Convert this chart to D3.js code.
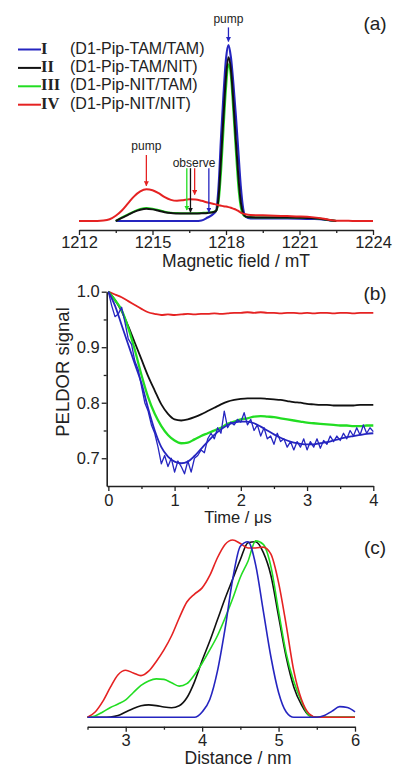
<!DOCTYPE html>
<html><head><meta charset="utf-8">
<script src="https://cdn.jsdelivr.net/npm/d3@7"></script>
<style>body{margin:0;background:#fff}svg{display:block}text{font-family:"Liberation Sans",Arial,sans-serif;fill:#222}</style>
</head><body>
<script>
// ---------- Panel (a): EPR spectra ----------
const fieldA = [1212,1212.5,1213,1213.25,1213.5,1213.75,1214,1214.25,1214.5,1214.75,1215,1215.25,1215.5,1215.75,1216,1216.25,1216.5,1216.75,1217,1217.25,1217.5,1217.6,1217.7,1217.8,1217.9,1218,1218.1,1218.2,1218.3,1218.4,1218.5,1218.6,1218.7,1218.8,1219,1219.5,1220,1220.5,1221,1221.5,1222,1222.25,1222.5,1223,1223.5,1224];
const specI   = [null,null,null,null,0,0,0,0,0,0,0,0,0,0,0,0,0,0,0.003,0.02,0.042,0.06,0.2,0.48,0.72,0.92,1.0,0.93,0.78,0.6,0.4,0.2,0.07,0.025,0.015,0.015,0.015,0.015,0.014,0.012,0.008,0.003,0,null,null,null];
const specII  = [null,null,null,null,0,0.018,0.035,0.052,0.064,0.07,0.066,0.058,0.05,0.045,0.043,0.042,0.042,0.042,0.044,0.046,0.051,0.058,0.14,0.36,0.6,0.82,0.93,0.86,0.68,0.46,0.26,0.11,0.045,0.025,0.021,0.02,0.02,0.02,0.019,0.017,0.01,0.004,0,null,null,null];
const specIII = [null,null,null,null,0,0.02,0.038,0.055,0.068,0.074,0.07,0.062,0.053,0.047,0.045,0.044,0.044,0.044,0.046,0.048,0.053,0.06,0.11,0.28,0.52,0.75,0.89,0.82,0.62,0.4,0.2,0.08,0.035,0.025,0.021,0.02,0.02,0.02,0.019,0.017,0.01,0.004,0,null,null,null];
const specIV  = [0,0,0.003,0.01,0.03,0.06,0.1,0.14,0.168,0.18,0.175,0.158,0.135,0.12,0.115,0.118,0.123,0.122,0.115,0.105,0.097,0.094,0.09,0.087,0.084,0.082,0.079,0.075,0.07,0.065,0.057,0.048,0.042,0.038,0.034,0.032,0.03,0.028,0.026,0.022,0.013,0.006,0.002,0.001,0,0];
const fieldTicksMajor = [1212,1215,1218,1221,1224];
const fieldTicksMinor = [1213.5,1216.5,1219.5,1222.5];

// ---------- Panel (b): PELDOR time traces ----------
const timeB = [0,0.1,0.2,0.3,0.4,0.5,0.6,0.7,0.8,0.9,1.0,1.1,1.2,1.3,1.4,1.5,1.6,1.7,1.8,1.9,2.0,2.1,2.2,2.3,2.4,2.5,2.6,2.7,2.8,2.9,3.0,3.1,3.2,3.3,3.4,3.5,3.6,3.7,3.8,3.9,4.0];
const traceIV  = [1.0,0.995,0.99,0.983,0.976,0.969,0.963,0.96,0.958,0.959,0.958,0.959,0.96,0.959,0.96,0.96,0.961,0.96,0.961,0.962,0.962,0.963,0.962,0.963,0.962,0.962,0.961,0.962,0.962,0.961,0.962,0.961,0.962,0.962,0.961,0.962,0.962,0.961,0.962,0.962,0.962];
const traceII  = [1.0,0.985,0.965,0.938,0.908,0.878,0.848,0.822,0.797,0.78,0.77,0.768,0.77,0.774,0.779,0.785,0.791,0.797,0.802,0.805,0.807,0.808,0.808,0.808,0.807,0.806,0.805,0.803,0.801,0.8,0.798,0.797,0.796,0.796,0.795,0.795,0.795,0.795,0.796,0.796,0.796];
const traceIII = [1.0,0.985,0.967,0.935,0.895,0.85,0.81,0.78,0.758,0.742,0.732,0.727,0.728,0.734,0.74,0.745,0.75,0.755,0.762,0.766,0.77,0.772,0.775,0.776,0.775,0.774,0.772,0.77,0.768,0.766,0.764,0.763,0.762,0.761,0.76,0.759,0.759,0.758,0.758,0.759,0.759];
const fitI     = [1.0,0.975,0.94,0.905,0.87,0.835,0.79,0.75,0.72,0.703,0.694,0.691,0.694,0.704,0.717,0.73,0.742,0.752,0.76,0.764,0.766,0.766,0.763,0.757,0.75,0.743,0.737,0.732,0.728,0.726,0.725,0.725,0.727,0.729,0.732,0.735,0.738,0.74,0.742,0.744,0.745];
const timeNoisy = [0,0.05,0.1,0.15,0.2,0.25,0.3,0.35,0.4,0.45,0.5,0.55,0.6,0.65,0.7,0.75,0.8,0.85,0.9,0.95,1.0,1.05,1.1,1.15,1.2,1.25,1.3,1.35,1.4,1.45,1.5,1.55,1.6,1.65,1.7,1.75,1.8,1.85,1.9,1.95,2.0,2.05,2.1,2.15,2.2,2.25,2.3,2.35,2.4,2.45,2.5,2.55,2.6,2.65,2.7,2.75,2.8,2.85,2.9,2.95,3.0,3.05,3.1,3.15,3.2,3.25,3.3,3.35,3.4,3.45,3.5,3.55,3.6,3.65,3.7,3.75,3.8,3.85,3.9,3.95,4.0];
const traceI = [1.0,0.975,0.955,0.96,0.972,0.945,0.915,0.905,0.875,0.86,0.83,0.8,0.785,0.76,0.745,0.72,0.69,0.705,0.685,0.7,0.675,0.695,0.685,0.672,0.695,0.675,0.7,0.705,0.715,0.71,0.735,0.745,0.735,0.755,0.745,0.785,0.755,0.765,0.76,0.77,0.765,0.782,0.76,0.77,0.75,0.76,0.74,0.755,0.735,0.74,0.725,0.745,0.73,0.735,0.72,0.73,0.715,0.73,0.72,0.735,0.715,0.73,0.72,0.735,0.718,0.732,0.725,0.74,0.73,0.74,0.732,0.745,0.735,0.75,0.74,0.755,0.742,0.76,0.745,0.755,0.748];
const timeTicksMajor = [0,1,2,3,4];
const timeTicksMinor = [0.5,1.5,2.5,3.5];
const signalTicksMajor = [0.7,0.8,0.9,1.0];
const signalTicksMinor = [0.75,0.85,0.95];

// ---------- Panel (c): distance distributions ----------
const distC = [2.5,2.6,2.7,2.8,2.9,3.0,3.1,3.2,3.3,3.4,3.5,3.6,3.7,3.8,3.9,4.0,4.1,4.2,4.3,4.4,4.5,4.6,4.7,4.8,4.9,5.0,5.1,5.2,5.3,5.4,5.5,5.6,5.7,5.8,5.9,6.0];
const distI   = [0,0,0,0,0,0,0,0,0,0,0,0,0,0,0,0.03,0.1,0.26,0.5,0.78,0.965,0.99,0.86,0.6,0.34,0.14,0.03,0,0,0,0,0.01,0.035,0.06,0.055,0.03];
const distII  = [0,0,0,0.002,0.01,0.03,0.05,0.065,0.07,0.066,0.058,0.054,0.065,0.11,0.2,0.32,0.43,0.55,0.67,0.78,0.89,0.985,0.99,0.93,0.8,0.57,0.34,0.17,0.07,0.01,0,0,0,0,0,0];
const distIII = [0,0.008,0.03,0.055,0.075,0.098,0.14,0.18,0.205,0.217,0.214,0.195,0.176,0.19,0.24,0.305,0.38,0.46,0.56,0.67,0.79,0.88,0.995,0.975,0.85,0.6,0.36,0.2,0.09,0.01,0,0,0,0,0,0];
const distIV  = [0,0.03,0.09,0.17,0.24,0.265,0.25,0.235,0.26,0.315,0.38,0.46,0.56,0.65,0.695,0.73,0.8,0.9,0.975,1.0,0.98,0.955,0.955,0.96,0.92,0.76,0.52,0.26,0.1,0.02,0,0,0,0,0,0];
const distTicksMajor = [3,4,5,6];
const distTicksMinor = [2.5,3.5,4.5,5.5];

const seriesNames = ["I","II","III","IV"];
const seriesLabels = ["(D1-Pip-TAM/TAM)","(D1-Pip-TAM/NIT)","(D1-Pip-NIT/TAM)","(D1-Pip-NIT/NIT)"];
const colors = {I:"#2525c0", II:"#111111", III:"#22dd22", IV:"#e52222"};

// ---------- drawing ----------
const svg = d3.select("body").append("svg").attr("width",400).attr("height",778);

function bottomAxis(scale, y, major, minor, pad, fmt){
  const gMin = svg.append("g").attr("transform",`translate(0,${y})`)
    .call(d3.axisBottom(scale).tickValues(minor).tickSize(3).tickFormat(""));
  gMin.select(".domain").remove();
  const g = svg.append("g").attr("transform",`translate(0,${y})`)
    .call(d3.axisBottom(scale).tickValues(major).tickSize(5).tickSizeOuter(0).tickPadding(pad).tickFormat(fmt||d3.format("d")));
  [gMin,g].forEach(gg=>{gg.selectAll("line").attr("stroke","#222").attr("stroke-width",1.3);});
  g.select(".domain").attr("stroke","#222").attr("stroke-width",1.6);
  g.selectAll("text").attr("font-size",16.5).attr("fill","#222").style("font-family","Liberation Sans, Arial, sans-serif");
  return g;
}

// Panel (a)
const xA = d3.scaleLinear().domain([1212,1224]).range([79,373]);
const yA = d3.scaleLinear().domain([0,1]).range([221,45]);
const lineA = d3.line().defined(d=>d[1]!=null).x(d=>xA(d[0])).y(d=>yA(d[1])).curve(d3.curveMonotoneX);
[["I",specI],["III",specIII],["II",specII],["IV",specIV]].forEach(([k,v])=>{
  svg.append("path").attr("d",lineA(fieldA.map((f,i)=>[f,v[i]])))
    .attr("fill","none").attr("stroke",colors[k]).attr("stroke-width",k==="I"?2.2:2).attr("stroke-linejoin","round");
});
bottomAxis(xA,230,fieldTicksMajor,fieldTicksMinor,1.5);
svg.append("text").attr("x",236).attr("y",267).attr("text-anchor","middle").attr("font-size",17.5).text("Magnetic field / mT");
svg.append("text").attr("x",375).attr("y",30).attr("text-anchor","middle").attr("font-size",19).text("(a)");

// arrows in (a)
const defs = svg.append("defs");
Object.entries(colors).forEach(([k,c])=>{
  defs.append("marker").attr("id","ah"+k).attr("viewBox","0 0 10 10").attr("refX",9).attr("refY",5)
    .attr("markerWidth",5).attr("markerHeight",5).attr("markerUnits","userSpaceOnUse").attr("orient","auto")
    .append("path").attr("d","M0,0L10,5L0,10Z").attr("fill",c);
});
function arrow(k, field, from, to){
  svg.append("line").attr("x1",xA(field)).attr("x2",xA(field)).attr("y1",yA(from)).attr("y2",yA(to))
    .attr("stroke",colors[k]).attr("stroke-width",1.3).attr("marker-end",`url(#ah${k})`);
}
arrow("I",1218.1,1.1,1.02);
arrow("IV",1214.75,0.375,0.2);
arrow("III",1216.4,0.3,0.062);
arrow("II",1216.55,0.3,0.05);
arrow("IV",1216.72,0.3,0.15);
arrow("I",1217.3,0.3,0.05);
svg.append("text").attr("x",xA(1218.1)).attr("y",23).attr("text-anchor","middle").attr("font-size",12).text("pump");
svg.append("text").attr("x",xA(1214.75)).attr("y",150).attr("text-anchor","middle").attr("font-size",12).text("pump");
svg.append("text").attr("x",194).attr("y",167).attr("text-anchor","middle").attr("font-size",12).text("observe");

// legend
seriesNames.forEach((n,i)=>{
  const cy = 47.5 + i*18.4;
  svg.append("line").attr("x1",18).attr("x2",41).attr("y1",cy+2).attr("y2",cy+2).attr("stroke",colors[n]).attr("stroke-width",2);
  svg.append("text").attr("x",41).attr("y",cy+6).attr("font-size",16.5).attr("font-weight","bold")
    .style("font-family","Liberation Serif, Times New Roman, serif").text(n);
  svg.append("text").attr("x",70).attr("y",cy+6).attr("font-size",16).text(seriesLabels[i]);
});

// Panel (b)
const xB = d3.scaleLinear().domain([-0.025,4]).range([106.7,373.3]);
const yB = d3.scaleLinear().domain([0.65,1.0]).range([486,291.7]);
const lineB = d3.line().x(d=>xB(d[0])).y(d=>yB(d[1])).curve(d3.curveMonotoneX);
const lineBlin = d3.line().x(d=>xB(d[0])).y(d=>yB(d[1]));
[["IV",traceIV,1.8],["II",traceII,1.8],["III",traceIII,2.3]].forEach(([k,v,w])=>{
  svg.append("path").attr("d",lineB(timeB.map((t,i)=>[t,v[i]]))).attr("fill","none").attr("stroke",colors[k]).attr("stroke-width",w);
});
svg.append("path").attr("d",lineBlin(timeNoisy.map((t,i)=>[t,traceI[i]]))).attr("fill","none").attr("stroke",colors.I).attr("stroke-width",1.3).attr("stroke-linejoin","round");
svg.append("path").attr("d",lineB(timeB.map((t,i)=>[t,fitI[i]]))).attr("fill","none").attr("stroke",colors.I).attr("stroke-width",1.8);

bottomAxis(xB,486,timeTicksMajor,timeTicksMinor,3.5);
const gyMin = svg.append("g").attr("transform","translate(106.7,0)").call(d3.axisLeft(yB).tickValues(signalTicksMinor).tickSize(3).tickFormat(""));
gyMin.select(".domain").remove();
const gy = svg.append("g").attr("transform","translate(106.7,0)")
  .call(d3.axisLeft(yB).tickValues(signalTicksMajor).tickSize(5).tickSizeOuter(0).tickPadding(2).tickFormat(d3.format(".1f")));
[gyMin,gy].forEach(g=>g.selectAll("line").attr("stroke","#222").attr("stroke-width",1.3));
gy.select(".domain").attr("stroke","#222").attr("stroke-width",1.6);
gy.selectAll("text").attr("font-size",16.5).attr("fill","#222").style("font-family","Liberation Sans, Arial, sans-serif");
svg.append("text").attr("transform","translate(69,372) rotate(-90)").attr("text-anchor","middle").attr("font-size",18.5).text("PELDOR signal");
svg.append("text").attr("x",238).attr("y",523).attr("text-anchor","middle").attr("font-size",16.5).text("Time / μs");
svg.append("text").attr("x",375).attr("y",300).attr("text-anchor","middle").attr("font-size",19).text("(b)");

// Panel (c)
const xC = d3.scaleLinear().domain([2.5,6]).range([87.5,355]);
const yC = d3.scaleLinear().domain([0,1]).range([717.3,540]);
const lineC = d3.line().x(d=>xC(d[0])).y(d=>yC(d[1])).curve(d3.curveMonotoneX);
[["II",distII],["III",distIII],["IV",distIV],["I",distI]].forEach(([k,v])=>{
  svg.append("path").attr("d",lineC(distC.map((x,i)=>[x,v[i]]))).attr("fill","none").attr("stroke",colors[k]).attr("stroke-width",1.6);
});
bottomAxis(xC,726.7,distTicksMajor,distTicksMinor,2.5);
svg.append("text").attr("x",238).attr("y",764).attr("text-anchor","middle").attr("font-size",17.5).text("Distance / nm");
svg.append("text").attr("x",375).attr("y",554).attr("text-anchor","middle").attr("font-size",19).text("(c)");
</script>
</body></html>
